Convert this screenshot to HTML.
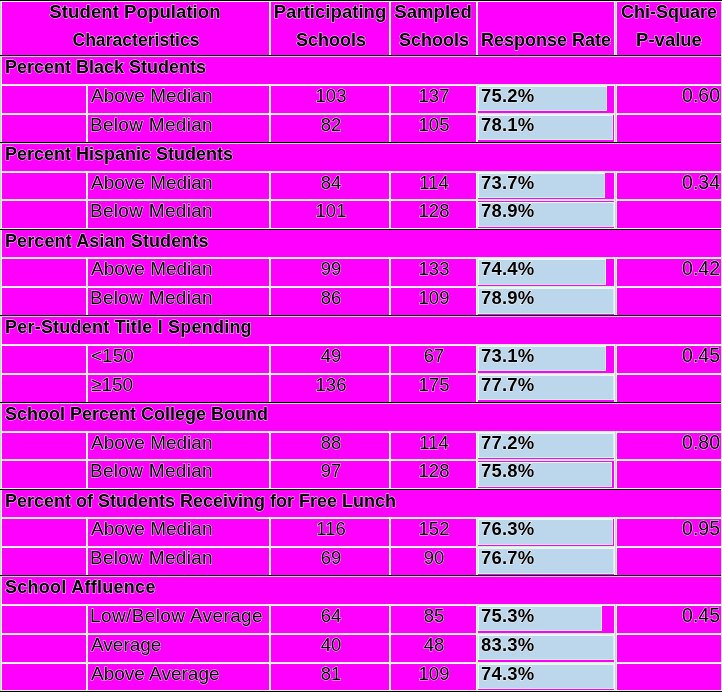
<!DOCTYPE html>
<html><head><meta charset="utf-8"><style>
html,body{margin:0;padding:0;}
body{width:722px;height:692px;background:#ff00ff;position:relative;overflow:hidden;font-family:"Liberation Sans", sans-serif;color:#000;}
div,span{position:absolute;}
.t{white-space:nowrap;line-height:1;-webkit-text-stroke:1px rgba(255,255,255,.8);paint-order:stroke fill;will-change:transform;}
</style></head><body>
<span class="t" style="left:5px;top:58.16px;font-size:18px;font-weight:700;letter-spacing:0px">Percent Black Students</span>
<div style="left:478px;top:86px;width:129px;height:25px;background:#bcd6ec;box-shadow:inset 1px 1px 0 #eef3f6,inset -1px -1px 0 #d2f0f2;"></div>
<span class="t" style="left:91px;top:85.92px;font-size:19px;font-weight:400;letter-spacing:0px">Above Median</span>
<span class="t" style="left:130.5px;width:400px;text-align:center;top:87.34px;font-size:18.5px;font-weight:400;letter-spacing:0px">103</span>
<span class="t" style="left:234px;width:400px;text-align:center;top:87.34px;font-size:18.5px;font-weight:400;letter-spacing:0px">137</span>
<span class="t" style="left:481.2px;top:87.34px;font-size:18.5px;font-weight:700;letter-spacing:0.2px">75.2%</span>
<span class="t" style="left:319.5px;width:400px;text-align:right;top:86.49px;font-size:19.5px;font-weight:400;letter-spacing:0px">0.60</span>
<div style="left:478px;top:115px;width:135px;height:25px;background:#bcd6ec;box-shadow:inset 1px 1px 0 #eef3f6,inset -1px -1px 0 #d2f0f2;"></div>
<span class="t" style="left:89.6px;top:114.92px;font-size:19px;font-weight:400;letter-spacing:0.3px">Below Median</span>
<span class="t" style="left:130.5px;width:400px;text-align:center;top:116.34px;font-size:18.5px;font-weight:400;letter-spacing:0px">82</span>
<span class="t" style="left:234px;width:400px;text-align:center;top:116.34px;font-size:18.5px;font-weight:400;letter-spacing:0px">105</span>
<span class="t" style="left:481.2px;top:116.34px;font-size:18.5px;font-weight:700;letter-spacing:0.2px">78.1%</span>
<span class="t" style="left:5px;top:145.16px;font-size:18px;font-weight:700;letter-spacing:0px">Percent Hispanic Students</span>
<div style="left:478px;top:173px;width:127px;height:25px;background:#bcd6ec;box-shadow:inset 1px 1px 0 #eef3f6,inset -1px -1px 0 #d2f0f2;"></div>
<span class="t" style="left:91px;top:172.92px;font-size:19px;font-weight:400;letter-spacing:0px">Above Median</span>
<span class="t" style="left:130.5px;width:400px;text-align:center;top:174.34px;font-size:18.5px;font-weight:400;letter-spacing:0px">84</span>
<span class="t" style="left:234px;width:400px;text-align:center;top:174.34px;font-size:18.5px;font-weight:400;letter-spacing:0px">114</span>
<span class="t" style="left:481.2px;top:174.34px;font-size:18.5px;font-weight:700;letter-spacing:0.2px">73.7%</span>
<span class="t" style="left:319.5px;width:400px;text-align:right;top:173.49px;font-size:19.5px;font-weight:400;letter-spacing:0px">0.34</span>
<div style="left:478px;top:202px;width:136px;height:25px;background:#bcd6ec;box-shadow:inset 1px 1px 0 #eef3f6,inset -1px -1px 0 #d2f0f2;"></div>
<span class="t" style="left:89.6px;top:200.92px;font-size:19px;font-weight:400;letter-spacing:0.3px">Below Median</span>
<span class="t" style="left:130.5px;width:400px;text-align:center;top:202.34px;font-size:18.5px;font-weight:400;letter-spacing:0px">101</span>
<span class="t" style="left:234px;width:400px;text-align:center;top:202.34px;font-size:18.5px;font-weight:400;letter-spacing:0px">128</span>
<span class="t" style="left:481.2px;top:202.34px;font-size:18.5px;font-weight:700;letter-spacing:0.2px">78.9%</span>
<span class="t" style="left:5px;top:232.16px;font-size:18px;font-weight:700;letter-spacing:0.1px">Percent Asian Students</span>
<div style="left:478px;top:259px;width:128px;height:26px;background:#bcd6ec;box-shadow:inset 1px 1px 0 #eef3f6,inset -1px -1px 0 #d2f0f2;"></div>
<span class="t" style="left:91px;top:258.92px;font-size:19px;font-weight:400;letter-spacing:0px">Above Median</span>
<span class="t" style="left:130.5px;width:400px;text-align:center;top:260.34px;font-size:18.5px;font-weight:400;letter-spacing:0px">99</span>
<span class="t" style="left:234px;width:400px;text-align:center;top:260.34px;font-size:18.5px;font-weight:400;letter-spacing:0px">133</span>
<span class="t" style="left:481.2px;top:260.34px;font-size:18.5px;font-weight:700;letter-spacing:0.2px">74.4%</span>
<span class="t" style="left:319.5px;width:400px;text-align:right;top:259.49px;font-size:19.5px;font-weight:400;letter-spacing:0px">0.42</span>
<div style="left:478px;top:288px;width:136px;height:26px;background:#bcd6ec;box-shadow:inset 1px 1px 0 #eef3f6,inset -1px -1px 0 #d2f0f2;"></div>
<span class="t" style="left:89.6px;top:287.92px;font-size:19px;font-weight:400;letter-spacing:0.3px">Below Median</span>
<span class="t" style="left:130.5px;width:400px;text-align:center;top:289.34px;font-size:18.5px;font-weight:400;letter-spacing:0px">86</span>
<span class="t" style="left:234px;width:400px;text-align:center;top:289.34px;font-size:18.5px;font-weight:400;letter-spacing:0px">109</span>
<span class="t" style="left:481.2px;top:289.34px;font-size:18.5px;font-weight:700;letter-spacing:0.2px">78.9%</span>
<span class="t" style="left:5px;top:318.16px;font-size:18px;font-weight:700;letter-spacing:0.22px">Per-Student Title I Spending</span>
<div style="left:478px;top:346px;width:128px;height:25px;background:#bcd6ec;box-shadow:inset 1px 1px 0 #eef3f6,inset -1px -1px 0 #d2f0f2;"></div>
<span class="t" style="left:91px;top:345.92px;font-size:19px;font-weight:400;letter-spacing:0px">&lt;150</span>
<span class="t" style="left:130.5px;width:400px;text-align:center;top:347.34px;font-size:18.5px;font-weight:400;letter-spacing:0px">49</span>
<span class="t" style="left:234px;width:400px;text-align:center;top:347.34px;font-size:18.5px;font-weight:400;letter-spacing:0px">67</span>
<span class="t" style="left:481.2px;top:347.34px;font-size:18.5px;font-weight:700;letter-spacing:0.2px">73.1%</span>
<span class="t" style="left:319.5px;width:400px;text-align:right;top:346.49px;font-size:19.5px;font-weight:400;letter-spacing:0px">0.45</span>
<div style="left:478px;top:375px;width:136px;height:25px;background:#bcd6ec;box-shadow:inset 1px 1px 0 #eef3f6,inset -1px -1px 0 #d2f0f2;"></div>
<span class="t" style="left:91px;top:374.92px;font-size:19px;font-weight:400;letter-spacing:0px">&ge;150</span>
<span class="t" style="left:130.5px;width:400px;text-align:center;top:376.34px;font-size:18.5px;font-weight:400;letter-spacing:0px">136</span>
<span class="t" style="left:234px;width:400px;text-align:center;top:376.34px;font-size:18.5px;font-weight:400;letter-spacing:0px">175</span>
<span class="t" style="left:481.2px;top:376.34px;font-size:18.5px;font-weight:700;letter-spacing:0.2px">77.7%</span>
<span class="t" style="left:5px;top:405.16px;font-size:18px;font-weight:700;letter-spacing:0px">School Percent College Bound</span>
<div style="left:478px;top:433px;width:136px;height:25px;background:#bcd6ec;box-shadow:inset 1px 1px 0 #eef3f6,inset -1px -1px 0 #d2f0f2;"></div>
<span class="t" style="left:91px;top:432.92px;font-size:19px;font-weight:400;letter-spacing:0px">Above Median</span>
<span class="t" style="left:130.5px;width:400px;text-align:center;top:434.34px;font-size:18.5px;font-weight:400;letter-spacing:0px">88</span>
<span class="t" style="left:234px;width:400px;text-align:center;top:434.34px;font-size:18.5px;font-weight:400;letter-spacing:0px">114</span>
<span class="t" style="left:481.2px;top:434.34px;font-size:18.5px;font-weight:700;letter-spacing:0.2px">77.2%</span>
<span class="t" style="left:319.5px;width:400px;text-align:right;top:433.49px;font-size:19.5px;font-weight:400;letter-spacing:0px">0.80</span>
<div style="left:478px;top:462px;width:134px;height:25px;background:#bcd6ec;box-shadow:inset 1px 1px 0 #eef3f6,inset -1px -1px 0 #d2f0f2;"></div>
<span class="t" style="left:89.6px;top:460.92px;font-size:19px;font-weight:400;letter-spacing:0.3px">Below Median</span>
<span class="t" style="left:130.5px;width:400px;text-align:center;top:462.34px;font-size:18.5px;font-weight:400;letter-spacing:0px">97</span>
<span class="t" style="left:234px;width:400px;text-align:center;top:462.34px;font-size:18.5px;font-weight:400;letter-spacing:0px">128</span>
<span class="t" style="left:481.2px;top:462.34px;font-size:18.5px;font-weight:700;letter-spacing:0.2px">75.8%</span>
<span class="t" style="left:5px;top:492.16px;font-size:18px;font-weight:700;letter-spacing:0px">Percent of Students Receiving for Free Lunch</span>
<div style="left:478px;top:519px;width:135px;height:26px;background:#bcd6ec;box-shadow:inset 1px 1px 0 #eef3f6,inset -1px -1px 0 #d2f0f2;"></div>
<span class="t" style="left:91px;top:518.92px;font-size:19px;font-weight:400;letter-spacing:0px">Above Median</span>
<span class="t" style="left:130.5px;width:400px;text-align:center;top:520.34px;font-size:18.5px;font-weight:400;letter-spacing:0px">116</span>
<span class="t" style="left:234px;width:400px;text-align:center;top:520.34px;font-size:18.5px;font-weight:400;letter-spacing:0px">152</span>
<span class="t" style="left:481.2px;top:520.34px;font-size:18.5px;font-weight:700;letter-spacing:0.2px">76.3%</span>
<span class="t" style="left:319.5px;width:400px;text-align:right;top:519.49px;font-size:19.5px;font-weight:400;letter-spacing:0px">0.95</span>
<div style="left:478px;top:548px;width:136px;height:26px;background:#bcd6ec;box-shadow:inset 1px 1px 0 #eef3f6,inset -1px -1px 0 #d2f0f2;"></div>
<span class="t" style="left:89.6px;top:547.92px;font-size:19px;font-weight:400;letter-spacing:0.3px">Below Median</span>
<span class="t" style="left:130.5px;width:400px;text-align:center;top:549.34px;font-size:18.5px;font-weight:400;letter-spacing:0px">69</span>
<span class="t" style="left:234px;width:400px;text-align:center;top:549.34px;font-size:18.5px;font-weight:400;letter-spacing:0px">90</span>
<span class="t" style="left:481.2px;top:549.34px;font-size:18.5px;font-weight:700;letter-spacing:0.2px">76.7%</span>
<span class="t" style="left:5px;top:578.16px;font-size:18px;font-weight:700;letter-spacing:0.27px">School Affluence</span>
<div style="left:478px;top:606px;width:124px;height:25px;background:#bcd6ec;box-shadow:inset 1px 1px 0 #eef3f6,inset -1px -1px 0 #d2f0f2;"></div>
<span class="t" style="left:89.6px;top:605.92px;font-size:19px;font-weight:400;letter-spacing:0.38px">Low/Below Average</span>
<span class="t" style="left:130.5px;width:400px;text-align:center;top:607.34px;font-size:18.5px;font-weight:400;letter-spacing:0px">64</span>
<span class="t" style="left:234px;width:400px;text-align:center;top:607.34px;font-size:18.5px;font-weight:400;letter-spacing:0px">85</span>
<span class="t" style="left:481.2px;top:607.34px;font-size:18.5px;font-weight:700;letter-spacing:0.2px">75.3%</span>
<span class="t" style="left:319.5px;width:400px;text-align:right;top:606.49px;font-size:19.5px;font-weight:400;letter-spacing:0px">0.45</span>
<div style="left:478px;top:635px;width:136px;height:25px;background:#bcd6ec;box-shadow:inset 1px 1px 0 #eef3f6,inset -1px -1px 0 #d2f0f2;"></div>
<span class="t" style="left:91px;top:634.92px;font-size:19px;font-weight:400;letter-spacing:0px">Average</span>
<span class="t" style="left:130.5px;width:400px;text-align:center;top:636.34px;font-size:18.5px;font-weight:400;letter-spacing:0px">40</span>
<span class="t" style="left:234px;width:400px;text-align:center;top:636.34px;font-size:18.5px;font-weight:400;letter-spacing:0px">48</span>
<span class="t" style="left:481.2px;top:636.34px;font-size:18.5px;font-weight:700;letter-spacing:0.2px">83.3%</span>
<div style="left:478px;top:664px;width:136px;height:25px;background:#bcd6ec;box-shadow:inset 1px 1px 0 #eef3f6,inset -1px -1px 0 #d2f0f2;"></div>
<span class="t" style="left:91px;top:663.92px;font-size:19px;font-weight:400;letter-spacing:0px">Above Average</span>
<span class="t" style="left:130.5px;width:400px;text-align:center;top:665.34px;font-size:18.5px;font-weight:400;letter-spacing:0px">81</span>
<span class="t" style="left:234px;width:400px;text-align:center;top:665.34px;font-size:18.5px;font-weight:400;letter-spacing:0px">109</span>
<span class="t" style="left:481.2px;top:665.34px;font-size:18.5px;font-weight:700;letter-spacing:0.2px">74.3%</span>
<span class="t" style="left:-65.30000000000001px;width:400px;text-align:center;top:3.17px;font-size:18.7px;font-weight:700;letter-spacing:0px">Student Population</span>
<span class="t" style="left:-64.5px;width:400px;text-align:center;top:32.10px;font-size:17.6px;font-weight:700;letter-spacing:0px">Characteristics</span>
<span class="t" style="left:130.2px;width:400px;text-align:center;top:3.26px;font-size:18.6px;font-weight:700;letter-spacing:0px">Participating</span>
<span class="t" style="left:131px;width:400px;text-align:center;top:30.76px;font-size:18px;font-weight:700;letter-spacing:0px">Schools</span>
<span class="t" style="left:233.3px;width:400px;text-align:center;top:3.26px;font-size:18.6px;font-weight:700;letter-spacing:0px">Sampled</span>
<span class="t" style="left:234px;width:400px;text-align:center;top:30.76px;font-size:18px;font-weight:700;letter-spacing:0px">Schools</span>
<span class="t" style="left:346px;width:400px;text-align:center;top:30.76px;font-size:18px;font-weight:700;letter-spacing:0px">Response Rate</span>
<span class="t" style="left:469px;width:400px;text-align:center;top:2.76px;font-size:18px;font-weight:700;letter-spacing:0px">Chi-Square</span>
<span class="t" style="left:468.5px;width:400px;text-align:center;top:31.34px;font-size:18.5px;font-weight:700;letter-spacing:0px">P-value</span>
<div style="left:0px;top:84px;width:722px;height:1px;background:#d8ead8;"></div>
<div style="left:0px;top:85px;width:722px;height:1px;background:#e4fae4;"></div>
<div style="left:0px;top:113px;width:722px;height:1px;background:#d8ead8;"></div>
<div style="left:0px;top:114px;width:722px;height:1px;background:#e4fae4;"></div>
<div style="left:0px;top:171px;width:722px;height:1px;background:#d8ead8;"></div>
<div style="left:0px;top:172px;width:722px;height:1px;background:#e4fae4;"></div>
<div style="left:0px;top:199px;width:722px;height:1px;background:#d8ead8;"></div>
<div style="left:0px;top:200px;width:722px;height:1px;background:#e4fae4;"></div>
<div style="left:0px;top:257px;width:722px;height:1px;background:#d8ead8;"></div>
<div style="left:0px;top:258px;width:722px;height:1px;background:#e4fae4;"></div>
<div style="left:0px;top:286px;width:722px;height:1px;background:#d8ead8;"></div>
<div style="left:0px;top:287px;width:722px;height:1px;background:#e4fae4;"></div>
<div style="left:0px;top:344px;width:722px;height:1px;background:#d8ead8;"></div>
<div style="left:0px;top:345px;width:722px;height:1px;background:#e4fae4;"></div>
<div style="left:0px;top:373px;width:722px;height:1px;background:#d8ead8;"></div>
<div style="left:0px;top:374px;width:722px;height:1px;background:#e4fae4;"></div>
<div style="left:0px;top:431px;width:722px;height:1px;background:#d8ead8;"></div>
<div style="left:0px;top:432px;width:722px;height:1px;background:#e4fae4;"></div>
<div style="left:0px;top:459px;width:722px;height:1px;background:#d8ead8;"></div>
<div style="left:0px;top:460px;width:722px;height:1px;background:#e4fae4;"></div>
<div style="left:0px;top:517px;width:722px;height:1px;background:#d8ead8;"></div>
<div style="left:0px;top:518px;width:722px;height:1px;background:#e4fae4;"></div>
<div style="left:0px;top:546px;width:722px;height:1px;background:#d8ead8;"></div>
<div style="left:0px;top:547px;width:722px;height:1px;background:#e4fae4;"></div>
<div style="left:0px;top:604px;width:722px;height:1px;background:#d8ead8;"></div>
<div style="left:0px;top:605px;width:722px;height:1px;background:#e4fae4;"></div>
<div style="left:0px;top:633px;width:722px;height:1px;background:#d8ead8;"></div>
<div style="left:0px;top:634px;width:722px;height:1px;background:#e4fae4;"></div>
<div style="left:0px;top:662px;width:722px;height:1px;background:#d8ead8;"></div>
<div style="left:0px;top:663px;width:722px;height:1px;background:#e4fae4;"></div>
<div style="left:269px;top:0px;width:1px;height:55px;background:#e8fce8;"></div>
<div style="left:270px;top:0px;width:1px;height:55px;background:#d8ecd8;"></div>
<div style="left:389px;top:0px;width:1px;height:55px;background:#e8fce8;"></div>
<div style="left:390px;top:0px;width:1px;height:55px;background:#d8ecd8;"></div>
<div style="left:476px;top:0px;width:1px;height:55px;background:#e8fce8;"></div>
<div style="left:477px;top:0px;width:1px;height:55px;background:#d8ecd8;"></div>
<div style="left:614px;top:0px;width:3px;height:55px;background:#e8fae8;"></div>
<div style="left:615px;top:0px;width:1px;height:55px;background:#d2d2d2;"></div>
<div style="left:86px;top:84px;width:1px;height:29px;background:#e8fce8;"></div>
<div style="left:87px;top:84px;width:1px;height:29px;background:#d8ecd8;"></div>
<div style="left:269px;top:84px;width:1px;height:29px;background:#e8fce8;"></div>
<div style="left:270px;top:84px;width:1px;height:29px;background:#d8ecd8;"></div>
<div style="left:389px;top:84px;width:1px;height:29px;background:#e8fce8;"></div>
<div style="left:390px;top:84px;width:1px;height:29px;background:#d8ecd8;"></div>
<div style="left:476px;top:84px;width:1px;height:29px;background:#e8fce8;"></div>
<div style="left:477px;top:84px;width:1px;height:29px;background:#d8ecd8;"></div>
<div style="left:614px;top:84px;width:3px;height:29px;background:#e8fae8;"></div>
<div style="left:615px;top:84px;width:1px;height:29px;background:#d2d2d2;"></div>
<div style="left:86px;top:113px;width:1px;height:29px;background:#e8fce8;"></div>
<div style="left:87px;top:113px;width:1px;height:29px;background:#d8ecd8;"></div>
<div style="left:269px;top:113px;width:1px;height:29px;background:#e8fce8;"></div>
<div style="left:270px;top:113px;width:1px;height:29px;background:#d8ecd8;"></div>
<div style="left:389px;top:113px;width:1px;height:29px;background:#e8fce8;"></div>
<div style="left:390px;top:113px;width:1px;height:29px;background:#d8ecd8;"></div>
<div style="left:476px;top:113px;width:1px;height:29px;background:#e8fce8;"></div>
<div style="left:477px;top:113px;width:1px;height:29px;background:#d8ecd8;"></div>
<div style="left:614px;top:113px;width:3px;height:29px;background:#e8fae8;"></div>
<div style="left:615px;top:113px;width:1px;height:29px;background:#d2d2d2;"></div>
<div style="left:86px;top:171px;width:1px;height:28px;background:#e8fce8;"></div>
<div style="left:87px;top:171px;width:1px;height:28px;background:#d8ecd8;"></div>
<div style="left:269px;top:171px;width:1px;height:28px;background:#e8fce8;"></div>
<div style="left:270px;top:171px;width:1px;height:28px;background:#d8ecd8;"></div>
<div style="left:389px;top:171px;width:1px;height:28px;background:#e8fce8;"></div>
<div style="left:390px;top:171px;width:1px;height:28px;background:#d8ecd8;"></div>
<div style="left:476px;top:171px;width:1px;height:28px;background:#e8fce8;"></div>
<div style="left:477px;top:171px;width:1px;height:28px;background:#d8ecd8;"></div>
<div style="left:614px;top:171px;width:3px;height:28px;background:#e8fae8;"></div>
<div style="left:615px;top:171px;width:1px;height:28px;background:#d2d2d2;"></div>
<div style="left:86px;top:199px;width:1px;height:29px;background:#e8fce8;"></div>
<div style="left:87px;top:199px;width:1px;height:29px;background:#d8ecd8;"></div>
<div style="left:269px;top:199px;width:1px;height:29px;background:#e8fce8;"></div>
<div style="left:270px;top:199px;width:1px;height:29px;background:#d8ecd8;"></div>
<div style="left:389px;top:199px;width:1px;height:29px;background:#e8fce8;"></div>
<div style="left:390px;top:199px;width:1px;height:29px;background:#d8ecd8;"></div>
<div style="left:476px;top:199px;width:1px;height:29px;background:#e8fce8;"></div>
<div style="left:477px;top:199px;width:1px;height:29px;background:#d8ecd8;"></div>
<div style="left:614px;top:199px;width:3px;height:29px;background:#e8fae8;"></div>
<div style="left:615px;top:199px;width:1px;height:29px;background:#d2d2d2;"></div>
<div style="left:86px;top:257px;width:1px;height:29px;background:#e8fce8;"></div>
<div style="left:87px;top:257px;width:1px;height:29px;background:#d8ecd8;"></div>
<div style="left:269px;top:257px;width:1px;height:29px;background:#e8fce8;"></div>
<div style="left:270px;top:257px;width:1px;height:29px;background:#d8ecd8;"></div>
<div style="left:389px;top:257px;width:1px;height:29px;background:#e8fce8;"></div>
<div style="left:390px;top:257px;width:1px;height:29px;background:#d8ecd8;"></div>
<div style="left:476px;top:257px;width:1px;height:29px;background:#e8fce8;"></div>
<div style="left:477px;top:257px;width:1px;height:29px;background:#d8ecd8;"></div>
<div style="left:614px;top:257px;width:3px;height:29px;background:#e8fae8;"></div>
<div style="left:615px;top:257px;width:1px;height:29px;background:#d2d2d2;"></div>
<div style="left:86px;top:286px;width:1px;height:29px;background:#e8fce8;"></div>
<div style="left:87px;top:286px;width:1px;height:29px;background:#d8ecd8;"></div>
<div style="left:269px;top:286px;width:1px;height:29px;background:#e8fce8;"></div>
<div style="left:270px;top:286px;width:1px;height:29px;background:#d8ecd8;"></div>
<div style="left:389px;top:286px;width:1px;height:29px;background:#e8fce8;"></div>
<div style="left:390px;top:286px;width:1px;height:29px;background:#d8ecd8;"></div>
<div style="left:476px;top:286px;width:1px;height:29px;background:#e8fce8;"></div>
<div style="left:477px;top:286px;width:1px;height:29px;background:#d8ecd8;"></div>
<div style="left:614px;top:286px;width:3px;height:29px;background:#e8fae8;"></div>
<div style="left:615px;top:286px;width:1px;height:29px;background:#d2d2d2;"></div>
<div style="left:86px;top:344px;width:1px;height:29px;background:#e8fce8;"></div>
<div style="left:87px;top:344px;width:1px;height:29px;background:#d8ecd8;"></div>
<div style="left:269px;top:344px;width:1px;height:29px;background:#e8fce8;"></div>
<div style="left:270px;top:344px;width:1px;height:29px;background:#d8ecd8;"></div>
<div style="left:389px;top:344px;width:1px;height:29px;background:#e8fce8;"></div>
<div style="left:390px;top:344px;width:1px;height:29px;background:#d8ecd8;"></div>
<div style="left:476px;top:344px;width:1px;height:29px;background:#e8fce8;"></div>
<div style="left:477px;top:344px;width:1px;height:29px;background:#d8ecd8;"></div>
<div style="left:614px;top:344px;width:3px;height:29px;background:#e8fae8;"></div>
<div style="left:615px;top:344px;width:1px;height:29px;background:#d2d2d2;"></div>
<div style="left:86px;top:373px;width:1px;height:29px;background:#e8fce8;"></div>
<div style="left:87px;top:373px;width:1px;height:29px;background:#d8ecd8;"></div>
<div style="left:269px;top:373px;width:1px;height:29px;background:#e8fce8;"></div>
<div style="left:270px;top:373px;width:1px;height:29px;background:#d8ecd8;"></div>
<div style="left:389px;top:373px;width:1px;height:29px;background:#e8fce8;"></div>
<div style="left:390px;top:373px;width:1px;height:29px;background:#d8ecd8;"></div>
<div style="left:476px;top:373px;width:1px;height:29px;background:#e8fce8;"></div>
<div style="left:477px;top:373px;width:1px;height:29px;background:#d8ecd8;"></div>
<div style="left:614px;top:373px;width:3px;height:29px;background:#e8fae8;"></div>
<div style="left:615px;top:373px;width:1px;height:29px;background:#d2d2d2;"></div>
<div style="left:86px;top:431px;width:1px;height:28px;background:#e8fce8;"></div>
<div style="left:87px;top:431px;width:1px;height:28px;background:#d8ecd8;"></div>
<div style="left:269px;top:431px;width:1px;height:28px;background:#e8fce8;"></div>
<div style="left:270px;top:431px;width:1px;height:28px;background:#d8ecd8;"></div>
<div style="left:389px;top:431px;width:1px;height:28px;background:#e8fce8;"></div>
<div style="left:390px;top:431px;width:1px;height:28px;background:#d8ecd8;"></div>
<div style="left:476px;top:431px;width:1px;height:28px;background:#e8fce8;"></div>
<div style="left:477px;top:431px;width:1px;height:28px;background:#d8ecd8;"></div>
<div style="left:614px;top:431px;width:3px;height:28px;background:#e8fae8;"></div>
<div style="left:615px;top:431px;width:1px;height:28px;background:#d2d2d2;"></div>
<div style="left:86px;top:459px;width:1px;height:29px;background:#e8fce8;"></div>
<div style="left:87px;top:459px;width:1px;height:29px;background:#d8ecd8;"></div>
<div style="left:269px;top:459px;width:1px;height:29px;background:#e8fce8;"></div>
<div style="left:270px;top:459px;width:1px;height:29px;background:#d8ecd8;"></div>
<div style="left:389px;top:459px;width:1px;height:29px;background:#e8fce8;"></div>
<div style="left:390px;top:459px;width:1px;height:29px;background:#d8ecd8;"></div>
<div style="left:476px;top:459px;width:1px;height:29px;background:#e8fce8;"></div>
<div style="left:477px;top:459px;width:1px;height:29px;background:#d8ecd8;"></div>
<div style="left:614px;top:459px;width:3px;height:29px;background:#e8fae8;"></div>
<div style="left:615px;top:459px;width:1px;height:29px;background:#d2d2d2;"></div>
<div style="left:86px;top:517px;width:1px;height:29px;background:#e8fce8;"></div>
<div style="left:87px;top:517px;width:1px;height:29px;background:#d8ecd8;"></div>
<div style="left:269px;top:517px;width:1px;height:29px;background:#e8fce8;"></div>
<div style="left:270px;top:517px;width:1px;height:29px;background:#d8ecd8;"></div>
<div style="left:389px;top:517px;width:1px;height:29px;background:#e8fce8;"></div>
<div style="left:390px;top:517px;width:1px;height:29px;background:#d8ecd8;"></div>
<div style="left:476px;top:517px;width:1px;height:29px;background:#e8fce8;"></div>
<div style="left:477px;top:517px;width:1px;height:29px;background:#d8ecd8;"></div>
<div style="left:614px;top:517px;width:3px;height:29px;background:#e8fae8;"></div>
<div style="left:615px;top:517px;width:1px;height:29px;background:#d2d2d2;"></div>
<div style="left:86px;top:546px;width:1px;height:29px;background:#e8fce8;"></div>
<div style="left:87px;top:546px;width:1px;height:29px;background:#d8ecd8;"></div>
<div style="left:269px;top:546px;width:1px;height:29px;background:#e8fce8;"></div>
<div style="left:270px;top:546px;width:1px;height:29px;background:#d8ecd8;"></div>
<div style="left:389px;top:546px;width:1px;height:29px;background:#e8fce8;"></div>
<div style="left:390px;top:546px;width:1px;height:29px;background:#d8ecd8;"></div>
<div style="left:476px;top:546px;width:1px;height:29px;background:#e8fce8;"></div>
<div style="left:477px;top:546px;width:1px;height:29px;background:#d8ecd8;"></div>
<div style="left:614px;top:546px;width:3px;height:29px;background:#e8fae8;"></div>
<div style="left:615px;top:546px;width:1px;height:29px;background:#d2d2d2;"></div>
<div style="left:86px;top:604px;width:1px;height:29px;background:#e8fce8;"></div>
<div style="left:87px;top:604px;width:1px;height:29px;background:#d8ecd8;"></div>
<div style="left:269px;top:604px;width:1px;height:29px;background:#e8fce8;"></div>
<div style="left:270px;top:604px;width:1px;height:29px;background:#d8ecd8;"></div>
<div style="left:389px;top:604px;width:1px;height:29px;background:#e8fce8;"></div>
<div style="left:390px;top:604px;width:1px;height:29px;background:#d8ecd8;"></div>
<div style="left:476px;top:604px;width:1px;height:29px;background:#e8fce8;"></div>
<div style="left:477px;top:604px;width:1px;height:29px;background:#d8ecd8;"></div>
<div style="left:614px;top:604px;width:3px;height:29px;background:#e8fae8;"></div>
<div style="left:615px;top:604px;width:1px;height:29px;background:#d2d2d2;"></div>
<div style="left:86px;top:633px;width:1px;height:29px;background:#e8fce8;"></div>
<div style="left:87px;top:633px;width:1px;height:29px;background:#d8ecd8;"></div>
<div style="left:269px;top:633px;width:1px;height:29px;background:#e8fce8;"></div>
<div style="left:270px;top:633px;width:1px;height:29px;background:#d8ecd8;"></div>
<div style="left:389px;top:633px;width:1px;height:29px;background:#e8fce8;"></div>
<div style="left:390px;top:633px;width:1px;height:29px;background:#d8ecd8;"></div>
<div style="left:476px;top:633px;width:1px;height:29px;background:#e8fce8;"></div>
<div style="left:477px;top:633px;width:1px;height:29px;background:#d8ecd8;"></div>
<div style="left:614px;top:633px;width:3px;height:29px;background:#e8fae8;"></div>
<div style="left:615px;top:633px;width:1px;height:29px;background:#d2d2d2;"></div>
<div style="left:86px;top:662px;width:1px;height:29px;background:#e8fce8;"></div>
<div style="left:87px;top:662px;width:1px;height:29px;background:#d8ecd8;"></div>
<div style="left:269px;top:662px;width:1px;height:29px;background:#e8fce8;"></div>
<div style="left:270px;top:662px;width:1px;height:29px;background:#d8ecd8;"></div>
<div style="left:389px;top:662px;width:1px;height:29px;background:#e8fce8;"></div>
<div style="left:390px;top:662px;width:1px;height:29px;background:#d8ecd8;"></div>
<div style="left:476px;top:662px;width:1px;height:29px;background:#e8fce8;"></div>
<div style="left:477px;top:662px;width:1px;height:29px;background:#d8ecd8;"></div>
<div style="left:614px;top:662px;width:3px;height:29px;background:#e8fae8;"></div>
<div style="left:615px;top:662px;width:1px;height:29px;background:#d2d2d2;"></div>
<div style="left:0px;top:1px;width:722px;height:1px;background:#e6f4e6;"></div>
<div style="left:0px;top:690px;width:722px;height:1px;background:#e6f4e6;"></div>
<div style="left:0px;top:0px;width:1px;height:692px;background:#d2d2d2;"></div>
<div style="left:1px;top:1px;width:1px;height:690px;background:#e8fae8;"></div>
<div style="left:721px;top:1px;width:1px;height:690px;background:#d6ecd6;"></div>
<div style="left:0px;top:56px;width:722px;height:1px;background:#c9d3c9;"></div>
<div style="left:0px;top:55px;width:721px;height:1px;background:#000;"></div>
<div style="left:0px;top:143px;width:722px;height:1px;background:#c9d3c9;"></div>
<div style="left:0px;top:142px;width:721px;height:1px;background:#000;"></div>
<div style="left:0px;top:228px;width:722px;height:1px;background:#e2f4e2;"></div>
<div style="left:0px;top:229px;width:721px;height:1px;background:#000;"></div>
<div style="left:0px;top:316px;width:722px;height:1px;background:#c9d3c9;"></div>
<div style="left:0px;top:315px;width:721px;height:1px;background:#000;"></div>
<div style="left:0px;top:403px;width:722px;height:1px;background:#c9d3c9;"></div>
<div style="left:0px;top:402px;width:721px;height:1px;background:#000;"></div>
<div style="left:0px;top:488px;width:722px;height:1px;background:#e2f4e2;"></div>
<div style="left:0px;top:489px;width:721px;height:1px;background:#000;"></div>
<div style="left:0px;top:576px;width:722px;height:1px;background:#c9d3c9;"></div>
<div style="left:0px;top:575px;width:721px;height:1px;background:#000;"></div>
<div style="left:0px;top:0px;width:722px;height:1px;background:#000;"></div>
<div style="left:0px;top:691px;width:722px;height:1px;background:#000;"></div>
</body></html>
